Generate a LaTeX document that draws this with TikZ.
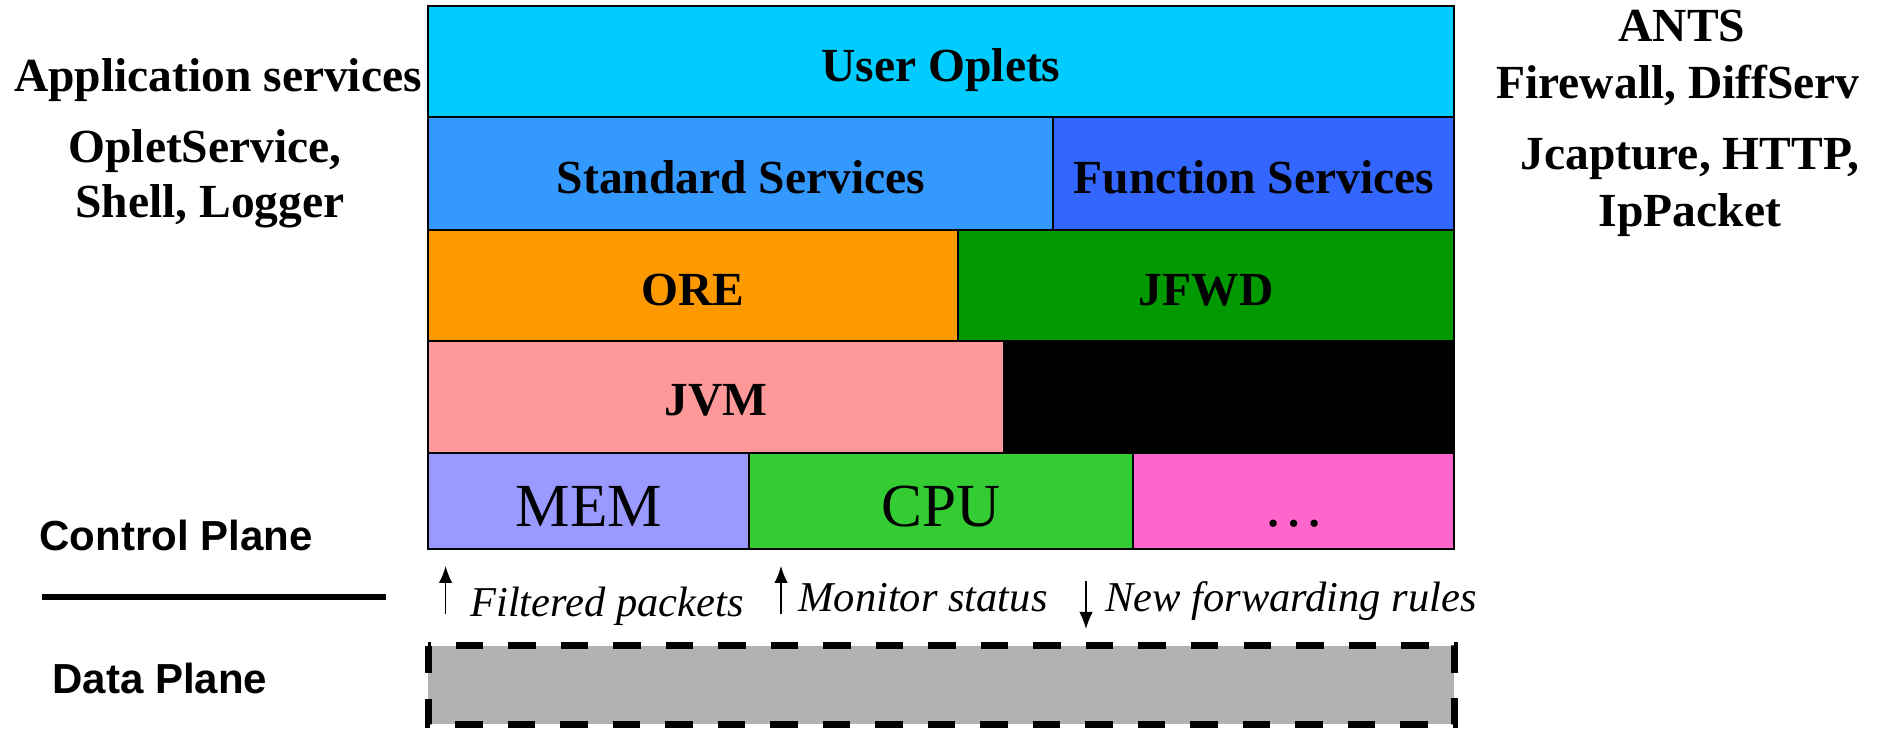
\documentclass[tikz,border=0pt]{standalone}
\usepackage{fontspec}
\setmainfont{Liberation Serif}
\setsansfont{Liberation Sans}
\usetikzlibrary{arrows.meta}
\definecolor{cUser}{HTML}{00CCFF}
\definecolor{cStd}{HTML}{3399FF}
\definecolor{cFun}{HTML}{3366FF}
\definecolor{cOre}{HTML}{FF9900}
\definecolor{cJfwd}{HTML}{009900}
\definecolor{cJvm}{HTML}{FF9999}
\definecolor{cMem}{HTML}{9999FF}
\definecolor{cCpu}{HTML}{33CC33}
\definecolor{cEtc}{HTML}{FF66CC}
\definecolor{cGray}{HTML}{B2B2B2}
\begin{document}
\begin{tikzpicture}[x=0.4pt,y=-0.4pt,
  cell/.style={draw=black,line width=0.8pt},
  boxlbl/.style={anchor=base,inner sep=0,font=\bfseries\fontsize{19}{21}\selectfont},
  hwlbl/.style={anchor=base,inner sep=0,font=\fontsize{24.5}{27}\selectfont},
  sidelbl/.style={anchor=base,inner sep=0,font=\bfseries\fontsize{19}{21}\selectfont},
  planelbl/.style={anchor=base,inner sep=0,font=\sffamily\bfseries\fontsize{16.8}{19}\selectfont},
  flowlbl/.style={anchor=base,inner sep=0,font=\itshape\fontsize{17}{19}\selectfont},
  flow/.style={line width=0.6pt,-{Latex[length=6.8pt,width=5.4pt]}},
]
\useasboundingbox (0,0) rectangle (1877,730);
% layers
\path[cell,fill=cUser] (428,6) rectangle (1454,117);
\path[cell,fill=cStd] (428,117) rectangle (1053,230);
\path[cell,fill=cFun] (1053,117) rectangle (1454,230);
\path[cell,fill=cOre] (428,230) rectangle (958,341);
\path[cell,fill=cJfwd] (958,230) rectangle (1454,341);
\path[fill=black,draw=black,line width=0.8pt] (1004,341) rectangle (1454,453);
\path[cell,fill=cJvm] (428,341) rectangle (1004,453);
\path[cell,fill=cMem] (428,453) rectangle (749,549);
\path[cell,fill=cCpu] (749,453) rectangle (1133,549);
\path[cell,fill=cEtc] (1133,453) rectangle (1454,549);
% labels in layers
\node[boxlbl] (user) at (941,82) {User Oplets};
\node[boxlbl] (std) at (741,194) {Standard Services};
\node[boxlbl] (fun) at (1254,194) {Function Services};
\node[boxlbl] (ore) at (693,306) {ORE};
\node[boxlbl] (jfwd) at (1206,306) {JFWD};
\node[boxlbl] (jvm) at (716,416) {JVM};
\node[hwlbl] (mem) at (589,527) {MEM};
\node[hwlbl] (cpu) at (941,527) {CPU};
\node[hwlbl] (etc) at (1294,527) {\dots};
% side texts
\node[sidelbl] (app) at (218,92) {Application services};
\node[sidelbl] (appa) at (205,163) {OpletService,};
\node[sidelbl] (appb) at (210,218) {Shell, Logger};
\node[sidelbl] (ants) at (1682,42) {ANTS};
\node[sidelbl] (antsa) at (1678,99) {Firewall, DiffServ};
\node[sidelbl] (funa) at (1690,170) {Jcapture, HTTP,};
\node[sidelbl] (funb) at (1690,227) {IpPacket};
% planes
\node[planelbl] (cp) at (176,551) {Control Plane};
\node[planelbl] (dp) at (160,694) {Data Plane};
\coordinate (sepL) at (42,597);
\coordinate (sepR) at (386,597);
\draw[line width=2.7pt] (sepL) -- (sepR);
% data plane box
\path[draw=black,line width=2.8pt,dash pattern=on 11pt off 10pt,fill=cGray] (428,646) rectangle (1454,724);
% flows
\coordinate (fpS) at (445.6,614);
\coordinate (fpE) at (445.6,566);
\coordinate (msS) at (781,614);
\coordinate (msE) at (781,566);
\coordinate (nfS) at (1086,581);
\coordinate (nfE) at (1086,629);
\draw[flow] (fpS) -- (fpE);
\draw[flow] (msS) -- (msE);
\draw[flow] (nfS) -- (nfE);
\node[flowlbl] (fp) at (607,617) {Filtered packets};
\node[flowlbl] (ms) at (923,612) {Monitor status};
\node[flowlbl] (nf) at (1291,612) {New forwarding rules};
\end{tikzpicture}
\end{document}
